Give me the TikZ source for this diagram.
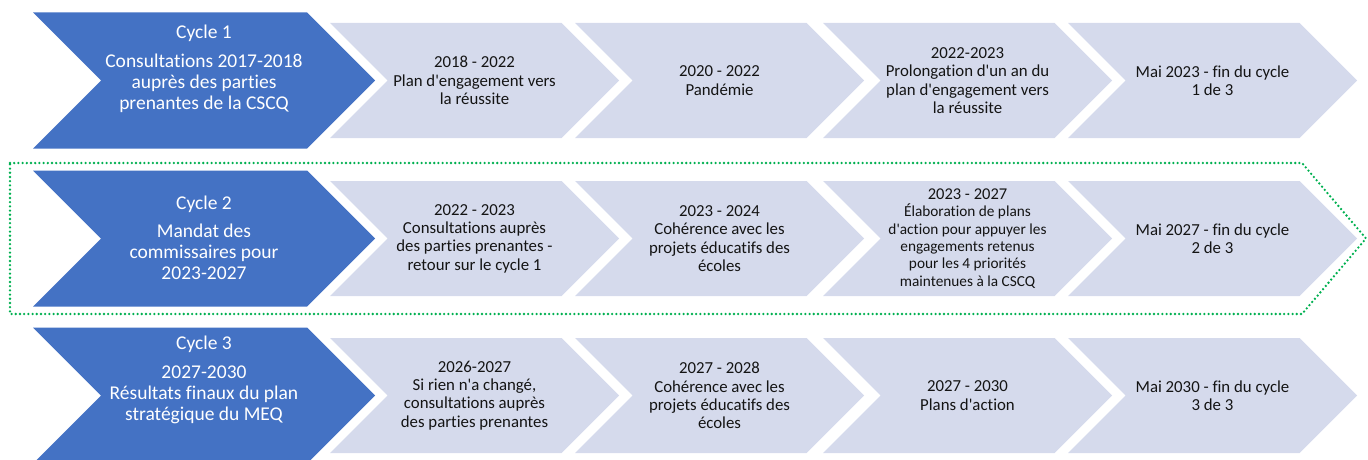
\documentclass[tikz,border=0pt]{standalone}
\usepackage{fontspec}
\setmainfont{Carlito}[Ligatures={TeX,CommonOff}, Contextuals=AlternateOff]
\definecolor{darkblue}{RGB}{68,114,196}
\definecolor{lightblue}{RGB}{213,218,236}
\definecolor{dotgreen}{RGB}{0,176,80}
\definecolor{txt}{RGB}{20,20,20}
\newcommand{\ap}{\textquotesingle}
\newcommand{\brk}{\kern0pt{}}
\newcommand{\mychev}[5]{\fill[#5] (#1,{#2-#4}) -- ({#1+#3-#4},{#2-#4}) -- ({#1+#3},#2) -- ({#1+#3-#4},{#2+#4}) -- (#1,{#2+#4}) -- ({#1+#4},#2) -- cycle;}
\begin{document}
\begin{tikzpicture}[x=1pt,y=-1pt,
  darkchev/.style={fill=darkblue},
  lightchev/.style={fill=lightblue},
  dtext/.style={text=white, align=center, inner sep=0pt, font=\fontsize{19.5}{21}\selectfont},
  ltext/.style={text=txt, align=center, inner sep=0pt, font=\fontsize{16.8}{18.3}\selectfont},
  stext/.style={text=txt, align=center, inner sep=0pt, font=\fontsize{15.3}{17.4}\selectfont},
  border/.style={draw=dotgreen, line width=2.6pt, dash pattern=on 0pt off 4.2pt, line cap=round, line join=round}]
\useasboundingbox (0,0) rectangle (1368,460);
% dotted frame around cycle 2
\draw[border] (10,163) -- (1302,163) -- (1366,238.5) -- (1302,314) -- (10,314) -- cycle;
% chevrons
\foreach \r in {80.5,238.5,395.5}{
  \mychev{33}{\r}{342}{68}{darkchev}
  \foreach \x in {330,575,823,1068}{
    \mychev{\x}{\r}{289}{57.5}{lightchev}
  }
}
% row 1
\node[dtext] (d1) at (204,69) {Cycle 1\\[8pt]Consultat\brk ions 2017-2018\\auprès des part\brk ies\\prenantes de la CSCQ};
\node[ltext] (a1) at (474.5,80.5) {2018 - 2022\\Plan d\ap engagement vers\\la réussite};
\node[ltext] (a2) at (719.5,80.5) {2020 - 2022\\Pandémie};
\node[ltext] (a3) at (967.5,80.5) {2022-2023\\Prolongation d\ap un an du\\plan d\ap engagement vers\\la réussite};
\node[ltext] (a4) at (1212.5,80.5) {Mai 2023 - fin du cycle\\1 de 3};
% row 2
\node[dtext] (d2) at (204,237.5) {Cycle 2\\[7pt]Mandat des\\commissaires pour\\2023-2027};
\node[ltext] (b1) at (474.5,238.5) {2022 - 2023\\Consultat\brk ions auprès\\des part\brk ies prenantes -\\retour sur le cycle 1};
\node[ltext] (b2) at (719.5,238.5) {2023 - 2024\\Cohérence avec les\\projets éducatifs des\\écoles};
\node[stext] (b3) at (967.5,238.5) {{\fontsize{16.5}{17.4}\selectfont 2023 - 2027}\\Élaboration de plans\\d\ap act\brk ion pour appuyer les\\engagements retenus\\pour les 4 priorités\\maintenues à la CSCQ};
\node[ltext] (b4) at (1212.5,238.5) {Mai 2027 - fin du cycle\\2 de 3};
% row 3
\node[dtext] (d3) at (204,380) {Cycle 3\\[8pt]2027-2030\\Résultats finaux du plan\\stratégique du MEQ};
\node[ltext] (c1) at (474.5,395.5) {2026-2027\\Si rien n\ap a changé,\\consultat\brk ions auprès\\des part\brk ies prenantes};
\node[ltext] (c2) at (719.5,395.5) {2027 - 2028\\Cohérence avec les\\projets éducatifs des\\écoles};
\node[ltext] (c3) at (967.5,395.5) {2027 - 2030\\Plans d\ap act\brk ion};
\node[ltext] (c4) at (1212.5,395.5) {Mai 2030 - fin du cycle\\3 de 3};
\end{tikzpicture}
\end{document}
